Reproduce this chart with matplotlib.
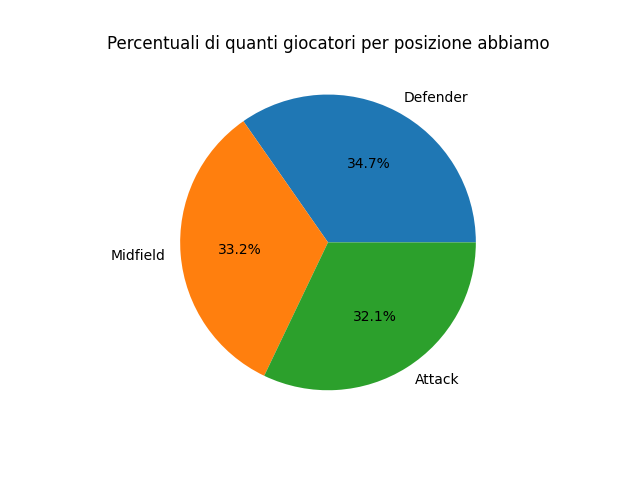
import matplotlib
matplotlib.use("Agg")
import matplotlib.pyplot as plt

# share of players per position
positions = ["Defender", "Midfield", "Attack"]
shares = [34.7, 33.2, 32.1]

plt.figure(figsize=(6.4, 4.8))
plt.pie(shares, labels=positions, autopct="%1.1f%%")
plt.title("Percentuali di quanti giocatori per posizione abbiamo")
plt.savefig("out.png", dpi=100)
